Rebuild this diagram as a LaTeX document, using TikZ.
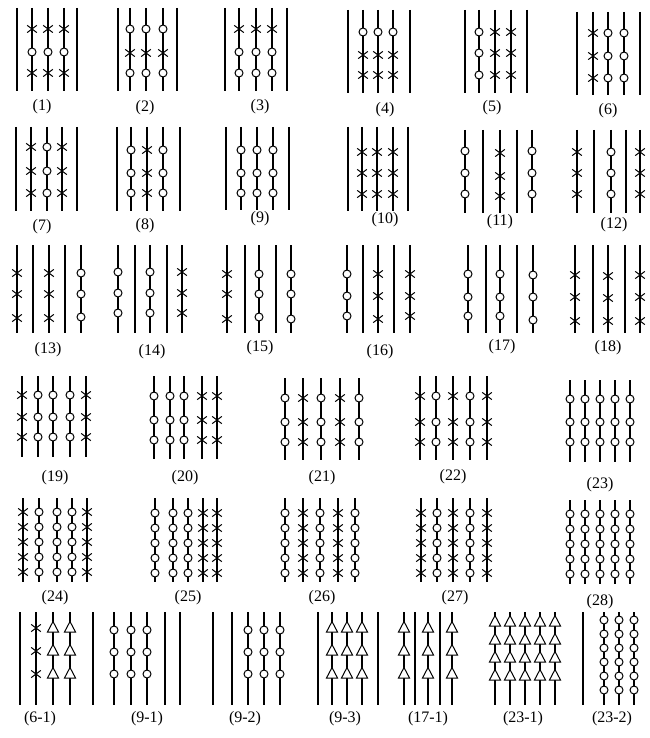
\documentclass[tikz,border=0pt]{standalone}
\usepackage{fontspec}
\setmainfont{Liberation Serif}
\tikzset{
  ln/.style={line width=1.3pt},
  ol/.style={line width=1.5pt},
  mk/.style={line width=1pt},
  lab/.style={font=\fontsize{16}{19}\selectfont, inner sep=0pt}
}
% mark: type (1 circle, 2 cross, 3 triangle), x, y
\newcommand\mkr[3]{%
  \ifcase#1\relax
  \or \draw[mk,fill=white] (#2,#3) circle (4);
  \or \draw[mk] (#2-4.8,#3-3.6) -- (#2+4.8,#3+3.6) (#2-4.8,#3+3.6) -- (#2+4.8,#3-3.6);
  \or \draw[mk,fill=white] (#2,#3-6.5) -- (#2+5.5,#3+4) -- (#2-5.5,#3+4) -- cycle;
  \fi}
% plain line: x, top, bottom
\newcommand\pl[3]{\draw[ol] (#1,#2) -- (#1,#3);}
% uniform column: x, top, bottom, type, y-list
\newcommand\cu[5]{\draw[ln] (#1,#2) -- (#1,#3);
  \foreach \mY in {#5}{\mkr{#4}{#1}{\mY}}}
% mixed column: x, top, bottom, y/type list
\newcommand\cm[4]{\draw[ln] (#1,#2) -- (#1,#3);
  \foreach \mY/\mT in {#4}{\mkr{\mT}{#1}{\mY}}}
\begin{document}
\begin{tikzpicture}[x=1pt,y=-1pt]
\useasboundingbox (0,0) rectangle (649,738);
\fill[white] (0,0) rectangle (649,738);
% ---------------- Row 1 ----------------
% (1)
\pl{17}{8}{91}\pl{77}{8}{91}
\foreach \x in {32,48,64}{\cm{\x}{8}{91}{29/2,52/1,73/2}}
\node[lab] (l1) at (42,107) {(1)};
% (2)
\pl{118}{8}{91}\pl{177}{8}{91}
\foreach \x in {130,146,163}{\cm{\x}{8}{91}{29/1,53/2,73/1}}
\node[lab] (l2) at (145,108) {(2)};
% (3)
\pl{225}{8}{91}\pl{287}{8}{91}
\foreach \x in {239,256,272}{\cm{\x}{8}{91}{29/2,52/1,73/1}}
\node[lab] (l3) at (260,107) {(3)};
% (4)
\pl{348}{10}{93}\pl{410}{10}{93}
\foreach \x in {363,378,393}{\cm{\x}{10}{93}{32/1,55/2,75/2}}
\node[lab] (l4) at (385,110) {(4)};
% (5)
\pl{465}{10}{93}\pl{527}{10}{93}
\cu{479}{10}{93}{1}{32,53,75}
\cu{495}{10}{93}{2}{32,53,75}
\cu{511}{10}{93}{2}{32,53,75}
\node[lab] (l5) at (492,108) {(5)};
% (6)
\pl{577}{12}{95}\pl{640}{12}{95}
\cu{593}{12}{95}{2}{33,56,78}
\cu{608}{12}{95}{1}{33,56,78}
\cu{624}{12}{95}{1}{33,56,78}
\node[lab] (l6) at (608,111) {(6)};
% ---------------- Row 2 ----------------
% (7)
\pl{16}{127}{211}\pl{77}{127}{211}
\cu{31}{127}{211}{2}{147,171,193}
\cu{47}{127}{211}{1}{147,171,193}
\cu{62}{127}{211}{2}{147,171,193}
\node[lab] (l7) at (42,227) {(7)};
% (8)
\pl{117}{127}{211}\pl{180}{127}{211}
\cu{131}{127}{211}{1}{150,173,193}
\cu{147}{127}{211}{2}{150,173,193}
\cu{163}{127}{211}{1}{150,173,193}
\node[lab] (l8) at (145,226) {(8)};
% (9)
\pl{226}{127}{210}\pl{289}{127}{210}
\foreach \x in {241,257,273}{\cu{\x}{127}{210}{1}{150,173,193}}
\node[lab] (l9) at (260,219) {(9)};
% (10)
\pl{348}{127}{211}\pl{408}{127}{211}
\foreach \x in {362,377,393}{\cu{\x}{127}{211}{2}{152,173,194}}
\node[lab] (l10) at (385,220) {(10)};
% (11)
\pl{483}{130}{213}\pl{517}{130}{213}
\cu{465}{130}{213}{1}{151,173,194}
\cu{500}{130}{213}{2}{153,176,196}
\cu{532}{130}{213}{1}{151,173,194}
\node[lab] (l11) at (500,222) {(11)};
% (12)
\pl{594}{130}{213}\pl{626}{130}{213}
\cu{577}{130}{213}{2}{152,173,194}
\cu{611}{130}{213}{1}{152,173,194}
\cu{640}{130}{213}{2}{152,173,194}
\node[lab] (l12) at (614,225) {(12)};
% ---------------- Row 3 ----------------
% (13)
\pl{33}{245}{333}\pl{65}{245}{333}
\cu{17}{245}{333}{2}{273,294,318}
\cu{49}{245}{333}{2}{273,294,318}
\cu{81}{245}{333}{1}{273,294,317}
\node[lab] (l13) at (48,350) {(13)};
% (14)
\pl{135}{245}{333}\pl{167}{245}{333}
\cu{118}{245}{333}{1}{272,293,313}
\cu{150}{245}{333}{1}{272,293,313}
\cu{182}{245}{333}{2}{272,293,313}
\node[lab] (l14) at (152,352) {(14)};
% (15)
\pl{245}{245}{333}\pl{276}{245}{333}
\cu{227}{245}{333}{2}{274,294,319}
\cu{259}{245}{333}{1}{274,294,317}
\cu{291}{245}{333}{1}{274,294,319}
\node[lab] (l15) at (260,348) {(15)};
% (16)
\pl{363}{245}{333}\pl{394}{245}{333}
\cu{347}{245}{333}{1}{274,296,316}
\cu{378}{245}{333}{2}{274,296,319}
\cu{410}{245}{333}{2}{274,296,316}
\node[lab] (l16) at (380,352) {(16)};
% (17)
\pl{486}{245}{333}\pl{517}{245}{333}
\cu{468}{245}{333}{1}{274,297,316}
\cu{500}{245}{333}{1}{274,297,316}
\cu{533}{245}{333}{1}{275,297,320}
\node[lab] (l17) at (502,347) {(17)};
% (18)
\pl{593}{245}{333}\pl{625}{245}{333}
\cu{575}{245}{333}{2}{275,297,321}
\cu{608}{245}{333}{2}{276,298,321}
\cu{640}{245}{333}{2}{275,297,321}
\node[lab] (l18) at (608,348) {(18)};
% ---------------- Row 4 ----------------
% (19)
\cu{22}{376}{457}{2}{395,417,437}
\foreach \x in {38,53,70}{\cu{\x}{376}{457}{1}{395,417,437}}
\cu{86}{376}{457}{2}{395,417,437}
\node[lab] (l19) at (55,478) {(19)};
% (20)
\foreach \x in {154,170,184}{\cu{\x}{376}{459}{1}{396,420,440}}
\foreach \x in {202,217}{\cu{\x}{376}{459}{2}{396,420,440}}
\node[lab] (l20) at (185,478) {(20)};
% (21)
\foreach \x in {285,321,359}{\cu{\x}{378}{460}{1}{398,422,442}}
\foreach \x in {303,340}{\cu{\x}{378}{460}{2}{398,422,442}}
\node[lab] (l21) at (322,478) {(21)};
% (22)
\foreach \x in {420,453,487}{\cu{\x}{376}{460}{2}{396,422,442}}
\foreach \x in {436,470}{\cu{\x}{376}{460}{1}{396,422,442}}
\node[lab] (l22) at (453,477) {(22)};
% (23)
\foreach \x in {570,585,600,615,630}{\cu{\x}{380}{462}{1}{399,422,442}}
\node[lab] (l23) at (600,485) {(23)};
% ---------------- Row 5 ----------------
% (24)
\cu{23}{498}{582}{2}{512,527,542,557,572}
\foreach \x in {39,57,72}{\cu{\x}{498}{582}{1}{512,527,542,557,572}}
\cu{87}{498}{582}{2}{512,527,542,557,572}
\node[lab] (l24) at (55,598) {(24)};
% (25)
\foreach \x in {155,173,188}{\cu{\x}{498}{582}{1}{513,528,543,558,573}}
\foreach \x in {203,217}{\cu{\x}{498}{582}{2}{513,528,543,558,573}}
\node[lab] (l25) at (188,598) {(25)};
% (26)
\foreach \x in {285,320,355}{\cu{\x}{498}{582}{1}{513,528,543,558,573}}
\foreach \x in {303,338}{\cu{\x}{498}{582}{2}{513,528,543,558,573}}
\node[lab] (l26) at (322,598) {(26)};
% (27)
\foreach \x in {421,453,487}{\cu{\x}{498}{582}{2}{513,528,543,558,573}}
\foreach \x in {437,470}{\cu{\x}{498}{582}{1}{513,528,543,558,573}}
\node[lab] (l27) at (455,598) {(27)};
% (28)
\foreach \x in {570,585,600,615,630}{\cu{\x}{500}{584}{1}{514,529,544,559,574}}
\node[lab] (l28) at (600,602) {(28)};
% ---------------- Row 6 ----------------
% (6-1)
\pl{20}{612}{705}\pl{93}{612}{705}
\cu{36}{612}{705}{2}{628,651,674}
\cu{53}{612}{705}{3}{628,651,674}
\cu{70}{612}{705}{3}{628,651,674}
\node[lab] (l61) at (40,719) {(6-1)};
% (9-1)
\foreach \x in {114,131,147}{\cu{\x}{612}{705}{1}{630,652,674}}
\pl{165}{612}{705}\pl{180}{612}{705}
\node[lab] (l91) at (147,719) {(9-1)};
% (9-2)
\pl{213}{612}{705}\pl{232}{612}{705}
\foreach \x in {248,264,280}{\cu{\x}{612}{705}{1}{630,652,674}}
\node[lab] (l92) at (245,719) {(9-2)};
% (9-3)
\pl{318}{612}{705}\pl{378}{612}{705}
\foreach \x in {332,347,362}{\cu{\x}{612}{705}{3}{628,651,674}}
\node[lab] (l93) at (345,719) {(9-3)};
% (17-1)
\pl{415}{612}{705}\pl{440}{612}{705}
\foreach \x in {404,428,452}{\cu{\x}{612}{705}{3}{628,651,674}}
\node[lab] (l171) at (428,719) {(17-1)};
% (23-1)
\foreach \x in {495,510,525,540,555}{\cu{\x}{612}{705}{3}{622,640,658,676}}
\node[lab] (l231) at (523,719) {(23-1)};
% (23-2)
\pl{583}{612}{705}
\foreach \x in {604,619,634}{\cu{\x}{612}{705}{1}{620,634,648,662,676,690}}
\node[lab] (l232) at (612,719) {(23-2)};
\end{tikzpicture}
\end{document}
